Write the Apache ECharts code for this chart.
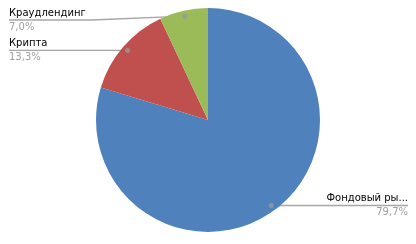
<!DOCTYPE html>
<html><head><meta charset="utf-8">
<style>html,body{margin:0;padding:0;background:#fff}#c{width:416px;height:244px}</style>
<script src="https://cdn.jsdelivr.net/npm/echarts@6/dist/echarts.min.js"></script>
</head><body><div id="c"></div>
<script>
const categories = ['Фондовый ры...', 'Крипта', 'Краудлендинг'];
const values = [79.7, 13.3, 7.0];
const colors = ['#4f81bd', '#c0504d', '#9bbb59'];

const total = values.reduce((a, b) => a + b, 0);
const pctText = v => (v / total * 100).toFixed(1).replace('.', ',') + '%';
const CX = 208, CY = 120, R = 112, DOT_K = 0.95;
// mid angles (degrees, clockwise from top) for leader dots
const midAngles = [];
{ let acc = 0; values.forEach(v => { midAngles.push((acc + v / 2) / total * 360); acc += v; }); }

const chart = echarts.init(document.getElementById('c'));
const W = chart.getWidth(), H = chart.getHeight();
const FONT = 'DejaVu Sans';
chart.setOption({
  animation: false,
  polar: { center: [CX, CY], radius: R },
  angleAxis: { type: 'value', min: 0, max: 360, startAngle: 90, clockwise: true,
    axisLine: { show: false }, axisTick: { show: false }, axisLabel: { show: false }, splitLine: { show: false } },
  radiusAxis: { type: 'value', min: 0, max: 1,
    axisLine: { show: false }, axisTick: { show: false }, axisLabel: { show: false }, splitLine: { show: false } },
  series: [{
    type: 'pie',
    center: [CX, CY],
    radius: R,
    startAngle: 90,
    clockwise: true,
    silent: true,
    itemStyle: { borderWidth: 0 },
    data: categories.map((n, i) => ({ name: n, value: values[i], itemStyle: { color: colors[i] } })),
    label: {
      show: true,
      position: 'outside',
      formatter: p => '{n|' + p.name + '}\n{p|' + pctText(p.value) + '}',
      rich: {
        n: { fontFamily: FONT, fontSize: 10, color: '#000', lineHeight: 14 },
        p: { fontFamily: FONT, fontSize: 10, color: '#a0a0a0', lineHeight: 14 }
      }
    },
    labelLine: { show: true, length: 10, length2: 10, lineStyle: { color: '#a6a6a6', width: 1.3 } },
    labelLayout: function (params) {
      const r = params.labelRect;
      const p0 = params.labelLinePoints ? params.labelLinePoints[0] : [CX, CY - R];
      const dx = p0[0] - CX, dy = p0[1] - CY, d = Math.hypot(dx, dy) || 1;
      const dot = [CX + dx / d * R * DOT_K, CY + dy / d * R * DOT_K];
      const left = dot[0] < CX;
      let lineY = Math.max(dot[1], r.height / 2 + 8);
      lineY = Math.min(lineY, H - r.height / 2 - 8);
      const ex = left ? 9 : W - 8;
      const kx = left ? ex + r.width + 6 : ex - r.width - 2;
      return {
        x: ex, y: lineY, align: left ? 'left' : 'right', verticalAlign: 'middle',
        labelLinePoints: [dot, [kx, lineY], [ex, lineY]]
      };
    }
  }, {
    type: 'scatter',
    coordinateSystem: 'polar',
    silent: true,
    z: 5,
    symbolSize: 5,
    itemStyle: { color: '#999999' },
    data: midAngles.map(a => [DOT_K, a])
  }]
});
</script></body></html>
